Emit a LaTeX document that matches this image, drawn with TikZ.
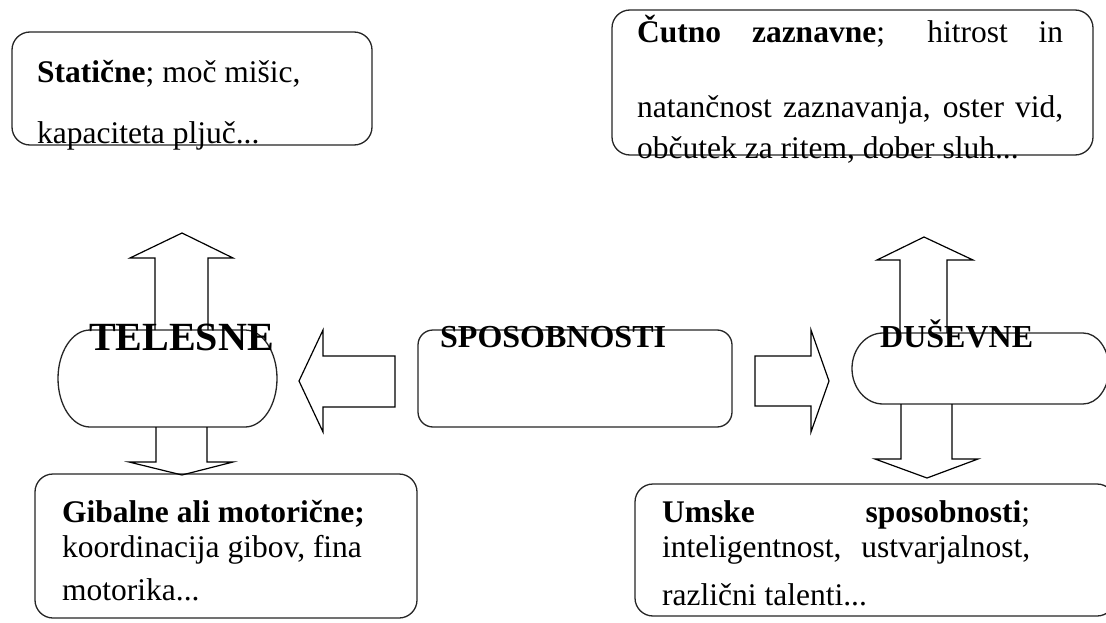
\documentclass[tikz,border=0pt]{standalone}
\usepackage{fontspec}
\setmainfont{Liberation Serif}
\begin{document}
\begin{tikzpicture}[x=1pt,y=-1pt,
  frame/.style={draw=black!85, line width=1.3pt},
  card/.style={frame, rounded corners=18pt, inner sep=0pt},
  blockarrow/.style={draw=black, line width=1.2pt, line join=miter},
  body/.style={inner sep=0pt, anchor=base west, font=\fontsize{31.5}{36}\selectfont},
  title/.style={inner sep=0pt, anchor=base west, font=\fontsize{32}{36}\selectfont\bfseries}]
\useasboundingbox (0,0) rectangle (1106,623);
\clip (0,0) rectangle (1106,623);
\fill[white] (0,0) rectangle (1106,623);

% outer category cards
\node[card, minimum width=360pt, minimum height=113pt] (staticne) at (192,88.5) {};
\node[card, minimum width=481pt, minimum height=145pt] (cutno) at (852.5,82.5) {};
\node[card, minimum width=382pt, minimum height=144pt] (gibalne) at (226,546) {};
\node[card, minimum width=480pt, minimum height=132pt] (umske) at (875,550) {};

% central card
\node[frame, rounded corners=15pt, minimum width=314pt, minimum height=97pt, inner sep=0pt] (sposob) at (575,378.5) {};

% capsule shapes for the two groups
\draw[frame] (90,330) -- (245,330)
  arc[start angle=-90, end angle=90, x radius=32, y radius=48.5]
  -- (90,427)
  arc[start angle=90, end angle=270, x radius=32, y radius=48.5] -- cycle;
\coordinate (telesne) at (167.5,378.5);
\draw[frame] (883,333) -- (1083,333)
  arc[start angle=-90, end angle=90, x radius=26, y radius=35.5]
  -- (883,404)
  arc[start angle=90, end angle=270, x radius=31, y radius=35.5] -- cycle;
\coordinate (dusevne) at (980,368.5);

% block arrows
\draw[blockarrow] (155,330) -- (155,258) -- (130,258) -- (182,233) -- (233,258) -- (208,258) -- (208,330);
\draw[blockarrow] (156,427) -- (156,462) -- (129,462) -- (182,475) -- (233,462) -- (207,462) -- (207,427);
\draw[blockarrow] (395,356) -- (323,356) -- (323,330) -- (299,381) -- (323,432) -- (323,407) -- (395,407) -- cycle;
\draw[blockarrow] (755,356) -- (811,356) -- (811,330) -- (829,381) -- (811,432) -- (811,406) -- (755,406) -- cycle;
\draw[blockarrow] (900,333) -- (900,260) -- (877,260) -- (924,237) -- (973,260) -- (947,260) -- (947,333);
\draw[blockarrow] (901,404) -- (901,459) -- (875,459) -- (927,478) -- (978,459) -- (952,459) -- (952,404);

% headings
\node[inner sep=0pt, anchor=base west, font=\fontsize{40}{44}\selectfont\bfseries] (tTelesne) at (89,350) {TELESNE};
\node[title] (tSposob) at (440,347) {SPOSOBNOSTI};
\node[title] (tDusevne) at (880,347) {DUŠEVNE};

% card texts
\node[body] (s1) at (37,83) {\textbf{Statične}; moč mišic,};
\node[body] (s2) at (37,144) {kapaciteta pljuč...};

\node[body] (c1) at (637,43) {\makebox[426pt][s]{\textbf{Čutno zaznavne}; hitrost in}};
\node[body] (c2) at (637,118) {\makebox[426pt][s]{natančnost zaznavanja, oster vid,}};
\node[body] (c3) at (637,159) {občutek za ritem, dober sluh...};

\node[body] (g1) at (62,522) {\textbf{Gibalne ali motorične;}};
\node[body] (g2) at (62,557) {koordinacija gibov, fina};
\node[body] (g3) at (62,600) {motorika...};

\node[body] (u1) at (662,522) {\makebox[368pt][s]{\textbf{Umske sposobnosti};}};
\node[body] (u2) at (662,557) {\makebox[368pt][s]{inteligentnost, ustvarjalnost,}};
\node[body] (u3) at (662,605) {različni talenti...};
\end{tikzpicture}
\end{document}
